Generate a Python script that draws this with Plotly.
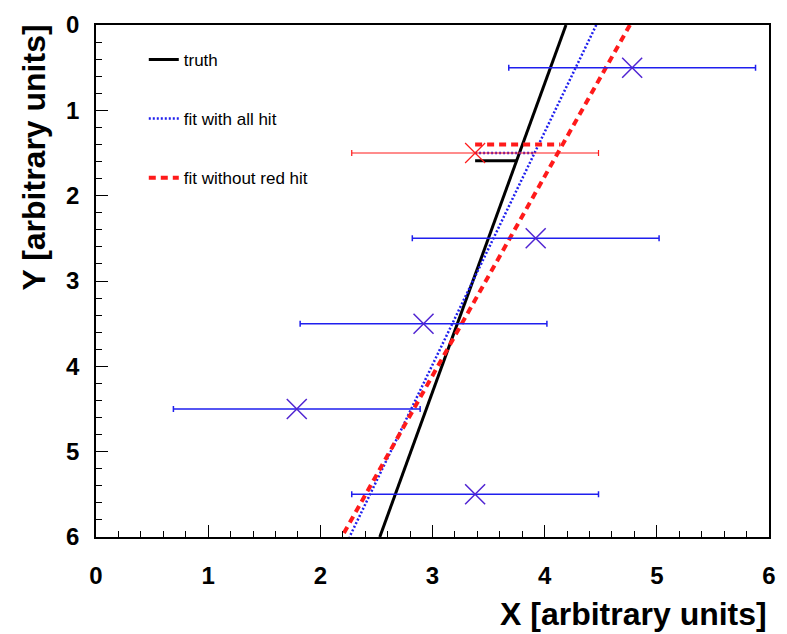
import plotly.graph_objects as go

# Measured hits: y position (layer), reconstructed x, symmetric x resolution
hit_y = [0.5, 2.5, 3.5, 4.5, 5.5]
hit_x = [4.78, 3.92, 2.92, 1.79, 3.38]
hit_err = [1.1, 1.1, 1.1, 1.1, 1.1]

# The outlier ("red") hit
red_y = [1.5]
red_x = [3.38]
red_err = [1.1]

# Track lines, given by their end points across the frame
truth_x = [4.19, 2.53]
truth_y = [0.0, 6.0]
fit_all_x = [4.46, 2.26]
fit_all_y = [0.0, 6.0]
fit_nored_x = [4.76, 2.19]
fit_nored_y = [0.0, 6.0]

# Short horizontal offsets from the red hit to each line
truth_step_x = [3.38, 3.75]
truth_step_y = [1.59, 1.59]
all_step_x = [3.38, 3.91]
all_step_y = [1.5, 1.5]
nored_step_x = [3.38, 4.14]
nored_step_y = [1.4, 1.4]

tick_vals = [0, 1, 2, 3, 4, 5, 6]
tick_text = ["0", "1", "2", "3", "4", "5", "6"]

FONT = "Liberation Sans, Arial, Helvetica, sans-serif"
BLUE = "#1f1fee"
MARK = "#5024d2"
RED = "#ff1a1a"

fig = go.Figure()

fig.add_trace(go.Scatter(
    x=truth_x, y=truth_y, mode="lines", name="truth",
    line=dict(color="black", width=3), legendgroup="a"))
fig.add_trace(go.Scatter(
    x=truth_step_x, y=truth_step_y, mode="lines", showlegend=False,
    line=dict(color="black", width=3), legendgroup="a"))

fig.add_trace(go.Scatter(
    x=fit_all_x, y=fit_all_y, mode="lines", name="fit with all hit",
    line=dict(color=BLUE, width=2.5, dash="2px,2px"), legendgroup="b"))
fig.add_trace(go.Scatter(
    x=all_step_x, y=all_step_y, mode="lines", showlegend=False,
    line=dict(color=BLUE, width=2.5, dash="2px,2px"), legendgroup="b"))

fig.add_trace(go.Scatter(
    x=fit_nored_x, y=fit_nored_y, mode="lines", name="fit without red hit",
    line=dict(color=RED, width=4, dash="7px,5px"), legendgroup="c"))
fig.add_trace(go.Scatter(
    x=nored_step_x, y=nored_step_y, mode="lines", showlegend=False,
    line=dict(color=RED, width=4, dash="7px,5px"), legendgroup="c"))

fig.add_trace(go.Scatter(
    x=hit_x, y=hit_y, mode="markers", showlegend=False, legendgroup="d",
    marker=dict(symbol="x-thin-open", size=20, color=MARK,
                line=dict(color=MARK, width=1.5)),
    error_x=dict(type="data", array=hit_err, visible=True,
                 color=BLUE, thickness=1.5, width=3)))

fig.add_trace(go.Scatter(
    x=red_x, y=red_y, mode="markers", showlegend=False, legendgroup="e",
    marker=dict(symbol="x-thin-open", size=20, color=RED,
                line=dict(color=RED, width=1.2)),
    error_x=dict(type="data", array=red_err, visible=True,
                 color=RED, thickness=1.2, width=3)))

axis_common = dict(
    showgrid=False, zeroline=False,
    showline=True, linecolor="black", linewidth=1.5, mirror=True,
    ticks="inside", ticklen=12, tickwidth=1.2, tickcolor="black",
    tickvals=tick_vals, ticktext=tick_text,
    tickfont=dict(family=FONT, size=24, color="black", weight="bold"),
    minor=dict(ticks="inside", dtick=0.2, ticklen=6, tickwidth=1,
               tickcolor="black", showgrid=False),
)

fig.update_xaxes(range=[0, 6], ticklabelstandoff=16, **axis_common)
fig.update_yaxes(range=[6, 0], ticklabelstandoff=10, **axis_common)

fig.add_annotation(
    text="X [arbitrary units]", xref="paper", yref="paper",
    x=1.0, y=-0.15, xanchor="right", yanchor="middle", showarrow=False,
    font=dict(family=FONT, size=32, color="black", weight="bold"))
fig.add_annotation(
    text="Y [arbitrary units]", xref="paper", yref="paper",
    x=-0.092, y=1.005, xanchor="center", yanchor="top", textangle=-90,
    showarrow=False,
    font=dict(family=FONT, size=32, color="black", weight="bold"))

fig.update_layout(
    width=787, height=634,
    margin=dict(l=96, r=11, t=22, b=97),
    paper_bgcolor="white", plot_bgcolor="white",
    showlegend=True,
    legend=dict(
        x=0.071, y=0.967, xanchor="left", yanchor="top",
        bgcolor="rgba(0,0,0,0)", borderwidth=0,
        font=dict(family=FONT, size=17, color="black"),
        itemwidth=30, tracegroupgap=34, traceorder="grouped"),
)

fig.write_html("out.html")
